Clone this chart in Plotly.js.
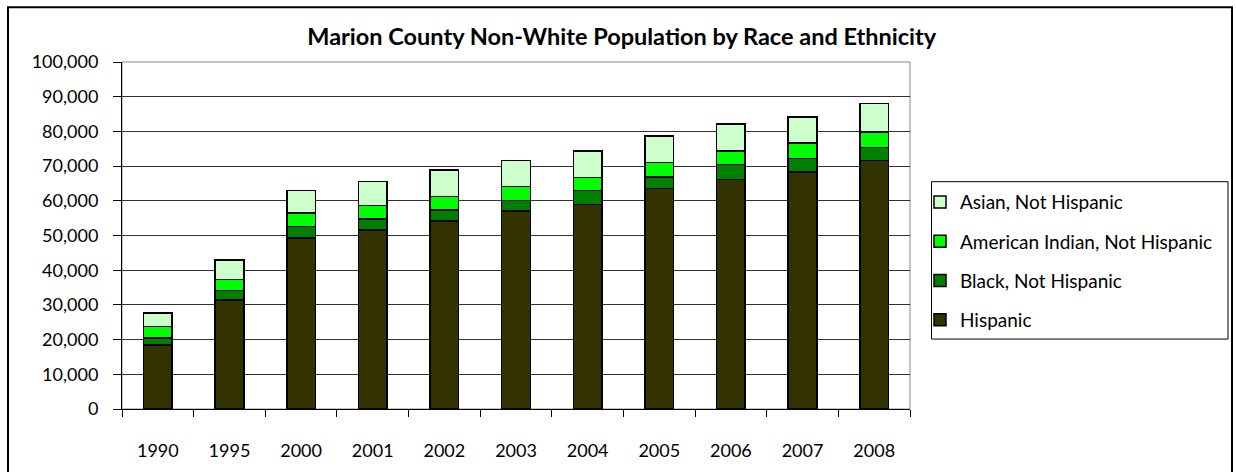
<!DOCTYPE html>
<html>
<head>
<meta charset="utf-8">
<script src="https://cdn.plot.ly/plotly-3.0.1.min.js"></script>
<style>
html,body{margin:0;padding:0;background:#fff;}
#chart{width:1236px;height:472px;}
</style>
</head>
<body>
<div id="chart"></div>
<script>
const years = ['1990','1995','2000','2001','2002','2003','2004','2005','2006','2007','2008'];
const hispanic = [18400, 31400, 49300, 51600, 54200, 57000, 58900, 63500, 66200, 68300, 71600];
const black = [2000, 2700, 3300, 3200, 3200, 3100, 4000, 3300, 4300, 3900, 3800];
const amIndian = [3400, 3200, 3900, 3800, 3800, 4000, 3800, 4300, 3800, 4400, 4400];
const asian = [3900, 5600, 6500, 7000, 7700, 7500, 7700, 7600, 7800, 7600, 8200];
const yTicks = [0,10000,20000,30000,40000,50000,60000,70000,80000,90000,100000];
const yTickText = ['0','10,000','20,000','30,000','40,000','50,000','60,000','70,000','80,000','90,000','100,000'];

const FONT = 'Lato, "Open Sans", sans-serif';
function mk(name, vals, color, grp, rank){
  return {type:'bar', name:name, x:years, y:vals, legendgroup:grp, legendrank:rank,
    marker:{color:color, line:{color:'#000', width:1.5}}, hoverinfo:'y+name'};
}
const data = [
  mk('Hispanic', hispanic, '#333300', 'g1', 4),
  mk('Black, Not Hispanic', black, '#008000', 'g2', 3),
  mk('American Indian, Not Hispanic', amIndian, '#00FF00', 'g3', 2),
  mk('Asian, Not Hispanic', asian, '#CCFFCC', 'g4', 1)
];
const PW = 788, PH = 347.3, PL = 122, PB = 409;
const px = v => (v - PL) / PW;
const py = v => (PB - v) / PH;
const layout = {
  width:1236, height:472,
  margin:{l:122, r:326, t:62, b:63, pad:0},
  paper_bgcolor:'#fff', plot_bgcolor:'#fff',
  font:{family:FONT, size:18, color:'#000'},
  barmode:'stack', bargap:0.6,
  title:{text:'<b>Marion County Non-White Population by Race and Ethnicity</b>',
    font:{family:FONT, size:23.5, color:'#000'}, x:0.503, xanchor:'center',
    y:1-37/472, yanchor:'middle', xref:'container', yref:'container'},
  xaxis:{type:'category', showgrid:false, showline:true, linecolor:'#000', linewidth:1,
    ticks:'outside', tickson:'boundaries', ticklen:7, tickcolor:'#000', tickwidth:1,
    ticklabelstandoff:25, tickfont:{size:18}},
  yaxis:{range:[0,100000], tickvals:yTicks, ticktext:yTickText, showgrid:true,
    gridcolor:'#333', gridwidth:1, showline:true, linecolor:'#000', linewidth:1,
    ticks:'outside', ticklen:8, tickcolor:'#000', ticklabelstandoff:11,
    tickfont:{size:18}, zeroline:false},
  legend:{x:px(920), xanchor:'left', y:py(183), yanchor:'top',
    traceorder:'grouped', tracegroupgap:11.5,
    borderwidth:0, bgcolor:'rgba(0,0,0,0)',
    font:{size:19, family:FONT}},
  shapes:[
    {type:'rect', xref:'paper', yref:'paper', x0:0, x1:1, y0:0, y1:1,
      line:{color:'#888', width:1}, layer:'below'},
    {type:'rect', xref:'paper', yref:'paper',
      x0:px(931.5), x1:px(1228), y0:py(339), y1:py(181.5),
      line:{color:'#000', width:1}},
    {type:'rect', xref:'paper', yref:'paper',
      x0:px(8), x1:px(1232), y0:py(490), y1:py(7),
      line:{color:'#000', width:2}}
  ]
};
Plotly.newPlot('chart', data, layout, {displayModeBar:false, staticPlot:true});
</script>
</body>
</html>
